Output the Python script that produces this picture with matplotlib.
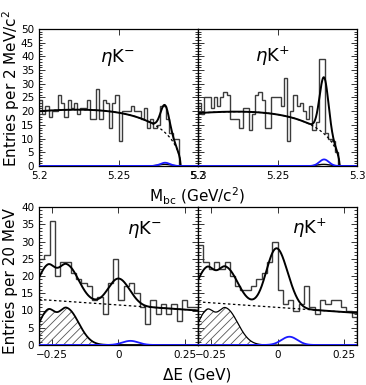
import numpy as np
import matplotlib
matplotlib.use("Agg")
import matplotlib.pyplot as plt
from matplotlib.ticker import MultipleLocator, FixedLocator, FuncFormatter

plt.rcParams['font.family'] = ['DejaVu Sans']
plt.rcParams['hatch.linewidth'] = 0.6

# ---------------- data ----------------
mbc_low, mbc_bin = 5.200, 0.002
counts_mbc_minus = [24, 19, 22, 18, 20, 20, 26, 23, 18, 24,
                    21, 23, 19, 21, 21, 24, 17, 17, 28, 17,
                    24, 23, 14, 23, 26, 9, 20, 20, 20, 22,
                    20, 20, 17, 21, 14, 17, 14, 15, 22, 22,
                    17, 12, 10, 10, 0]
counts_mbc_plus = [23, 19, 25, 25, 21, 25, 22, 25, 27, 26,
                   17, 17, 17, 14, 21, 21, 13, 19, 26, 27,
                   24, 14, 14, 25, 25, 25, 22, 32, 9, 20,
                   26, 22, 23, 20, 17, 22, 13, 16, 39, 39,
                   12, 10, 9, 5, 0]

de_low, de_bin = -0.30, 0.02
counts_de_minus = [25, 26, 36, 20, 24, 24, 21, 19, 18, 17,
                   13, 14, 9, 18, 25, 13, 17, 18, 15, 11,
                   6, 13, 9, 12, 9, 12, 7, 13, 11, 11]
counts_de_plus = [29, 24, 22, 24, 22, 24, 20, 17, 16, 16,
                  17, 19, 21, 24, 30, 16, 12, 13, 10, 12,
                  17, 11, 9, 13, 12, 13, 13, 11, 10, 8]

panel_labels = [r'$\eta\mathrm{K}^{-}$', r'$\eta\mathrm{K}^{+}$']

# fit-model parameters
argus_end, argus_c = 5.289, -20.0
argus_norm = [20.0, 19.3]          # background height at 5.2
mbc_sig_mean, mbc_sig_sigma = 5.2793, 0.0028
mbc_sig_amp = [10.0, 20.6]
mbc_blue_amp = [1.2, 2.4]
mbc_peak_amp = [0.6, 0.6]

de_bg_at_low = [13.2, 12.5]
de_bg_at_high = [10.0, 9.3]
de_sig_mean = [-0.003, -0.006]
de_sig_sigma = 0.037
de_sig_amp = [7.3, 16.5]
de_blue_mean, de_blue_sigma = 0.045, 0.03
de_blue_amp = [1.2, 2.4]
# peaking background (two bifurcated gaussians)
pk1 = dict(mean=-0.268, sl=0.035, sr=0.028, amp=9.5)
pk2 = dict(mean=-0.195, sl=0.032, sr=0.045, amp=10.5)


def gauss(x, m, s, a):
    return a * np.exp(-0.5 * ((x - m) / s) ** 2)


def bigauss(x, mean, sl, sr, amp):
    s = np.where(x < mean, sl, sr)
    return amp * np.exp(-0.5 * ((x - mean) / s) ** 2)


def argus_shape(m):
    u = np.clip(1 - (m / argus_end) ** 2, 0, None)
    return m * np.sqrt(u) * np.exp(argus_c * u)


def argus(m, norm):
    return norm * argus_shape(m) / argus_shape(np.array(5.2))


# ---------------- figure ----------------
W, H = 366, 385
fig = plt.figure(figsize=(W / 100, H / 100), dpi=100)


def px_axes(x0, y0, x1, y1):
    return fig.add_axes([x0 / W, 1 - y1 / H, (x1 - x0) / W, (y1 - y0) / H])


hist_col = '#3c3c3c'
blue = '#1a1aff'
fmt = FuncFormatter(lambda v, p: ('%g' % v).replace('-', '\u2212'))


def style(ax, ymax, xticks, left):
    ax.set_ylim(0, ymax)
    ax.yaxis.set_major_locator(MultipleLocator(5))
    ax.yaxis.set_minor_locator(MultipleLocator(1))
    ax.xaxis.set_major_locator(FixedLocator(xticks))
    ax.xaxis.set_major_formatter(fmt)
    ax.tick_params(which='both', direction='in', top=True, right=True,
                   labelsize=7.5, pad=3.5, width=0.7, color='#333333')
    ax.tick_params(which='major', length=4)
    ax.tick_params(which='minor', length=2)
    if not left:
        ax.tick_params(labelleft=False)
    for s in ax.spines.values():
        s.set_linewidth(0.9)


# top panels
mgrid = np.linspace(5.2, 5.3, 800)
for i, (x0, x1) in enumerate([(39, 198), (198, 357)]):
    ax = px_axes(x0, 29, x1, 166)
    counts = counts_mbc_minus if i == 0 else counts_mbc_plus
    edges = mbc_low + mbc_bin * np.arange(len(counts) + 1)
    ax.stairs(counts, edges, color=hist_col, lw=1.0, baseline=0)
    bg = argus(mgrid, argus_norm[i])
    sig = gauss(mgrid, mbc_sig_mean, mbc_sig_sigma, mbc_sig_amp[i])
    ax.plot(mgrid, bg, color='black', lw=0.9, ls=(0, (2, 2)))
    ax.plot(mgrid, bg + sig, color='black', lw=1.4)
    ax.plot(mgrid, gauss(mgrid, 5.279, 0.004, mbc_peak_amp[i]), color='black', lw=1.0)
    ax.plot(mgrid, gauss(mgrid, mbc_sig_mean, 0.003, mbc_blue_amp[i]), color=blue, lw=1.3, zorder=5)
    ax.set_xlim(5.2, 5.3)
    style(ax, 50, [5.2, 5.25, 5.3], i == 0)

# bottom panels
dgrid = np.linspace(-0.3, 0.3, 800)
for i, (x0, x1) in enumerate([(39, 198), (198, 357)]):
    ax = px_axes(x0, 207, x1, 345)
    counts = counts_de_minus if i == 0 else counts_de_plus
    edges = de_low + de_bin * np.arange(len(counts) + 1)
    ax.stairs(counts, edges, color=hist_col, lw=1.0, baseline=0)
    slope = (de_bg_at_high[i] - de_bg_at_low[i]) / 0.6
    bg = de_bg_at_low[i] + slope * (dgrid + 0.3)
    peak = bigauss(dgrid, **pk1) + bigauss(dgrid, **pk2)
    sig = gauss(dgrid, de_sig_mean[i], de_sig_sigma, de_sig_amp[i])
    bl = gauss(dgrid, de_blue_mean, de_blue_sigma, de_blue_amp[i])
    ax.fill_between(dgrid, 0, peak, facecolor='none', edgecolor='#555555',
                    hatch='////', lw=0)
    ax.plot(dgrid, peak, color='black', lw=1.3 if i == 0 else 0.9)
    ax.plot(dgrid, bg, color='black', lw=0.9, ls=(0, (2, 2)))
    ax.plot(dgrid, bg + peak + sig + bl, color='black', lw=1.4)
    ax.plot(dgrid, bl, color=blue, lw=1.3, zorder=5)
    ax.set_xlim(-0.3, 0.3)
    style(ax, 40, [-0.25, 0, 0.25], i == 0)

# panel labels
for (px, py), lab in zip([(117, 57), (272, 56), (144, 229), (309, 228)],
                         panel_labels * 2):
    fig.text(px / W, 1 - py / H, lab, fontsize=13, ha='center', va='center')

# axis titles
fig.text(11 / W, 1 - 88 / H, 'Entries per 2 MeV/c$^2$', rotation=90,
         fontsize=11, ha='center', va='center')
fig.text(11 / W, 1 - 281 / H, 'Entries per 20 MeV', rotation=90,
         fontsize=11, ha='center', va='center')
fig.text(197 / W, 1 - 196 / H, r'M$_{\rm bc}$ (GeV/c$^2$)',
         fontsize=11, ha='center', va='center')
fig.text(197 / W, 1 - 375 / H, '\u0394E (GeV)',
         fontsize=11, ha='center', va='center')

fig.savefig('out.png', dpi=100)
